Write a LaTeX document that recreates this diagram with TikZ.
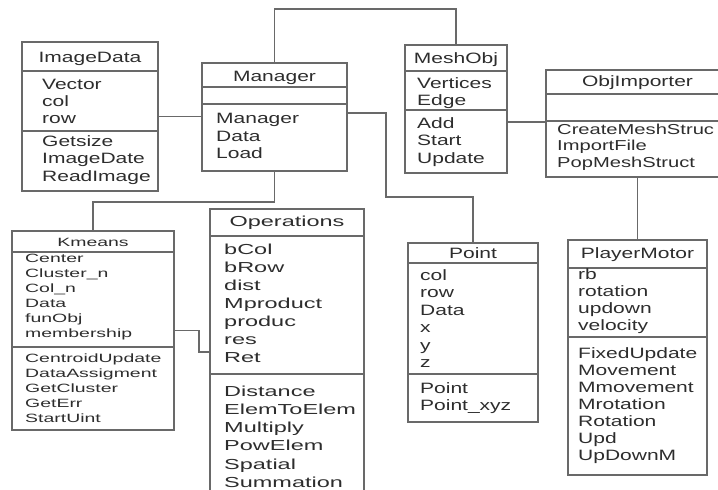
\documentclass[tikz,border=0pt]{standalone}
\usepackage{fontspec}
\setmainfont{Liberation Sans}[FakeStretch=1.4]
\newfontfamily\widefont{Liberation Sans}[FakeStretch=1.62]
\usetikzlibrary{positioning}
\definecolor{linegray}{RGB}{105,105,105}
\definecolor{textgray}{RGB}{45,45,45}
\tikzstyle{class} = [rectangle, draw=linegray, line width=1.1pt, inner sep=0pt, outer sep=0pt, anchor=north west]
\tikzstyle{ctitle} = [anchor=base, inner sep=0pt, text=textgray, font=\fontsize{15}{17.5}\selectfont]
\tikzstyle{members} = [anchor=north west, inner sep=0pt, align=left, text=textgray, font=\fontsize{15}{17.5}\selectfont]
\tikzstyle{link} = [draw=linegray, line width=1.1pt]

\begin{document}
\begin{tikzpicture}[x=1pt, y=-1pt]
\useasboundingbox (0,0) rectangle (718,490);
\clip (0,0) rectangle (718,490);

\node (imgdata) [class, minimum width=136pt, minimum height=149pt] at (22,42) {};
\draw[link] (imgdata.west |- 0,71) -- (imgdata.east |- 0,71);
\draw[link] (imgdata.west |- 0,131) -- (imgdata.east |- 0,131);
\node (imgdata-t) [ctitle] at (imgdata.north |- 0,62) {ImageData};
\node (imgdata-a) [members, font=\fontsize{15}{17}\selectfont] at (42,79.2) {Vector\\col\\row};
\node (imgdata-m) [members] at (42,135.2) {Getsize\\ImageDate\\ReadImage};

\node (mgr) [class, minimum width=145pt, minimum height=108pt] at (202,63) {};
\draw[link] (mgr.west |- 0,87) -- (mgr.east |- 0,87);
\draw[link] (mgr.west |- 0,104) -- (mgr.east |- 0,104);
\node (mgr-t) [ctitle] at (mgr.north |- 0,81) {Manager};
\node (mgr-m) [members] at (216,113.2) {Manager\\Data\\Load};

\node (mesh) [class, minimum width=102pt, minimum height=128pt] at (405,45) {};
\draw[link] (mesh.west |- 0,71) -- (mesh.east |- 0,71);
\draw[link] (mesh.west |- 0,110) -- (mesh.east |- 0,110);
\node (mesh-t) [ctitle] at (mesh.north |- 0,63) {MeshObj};
\node (mesh-a) [members, font=\fontsize{15}{17}\selectfont] at (417,77.2) {Vertices\\Edge};
\node (mesh-m) [members] at (417,117.2) {Add\\Start\\Update};

\node (objimp) [class, minimum width=183pt, minimum height=107pt] at (546,70) {};
\draw[link] (objimp.west |- 0,94) -- (objimp.east |- 0,94);
\draw[link] (objimp.west |- 0,121) -- (objimp.east |- 0,121);
\node (objimp-t) [ctitle] at (objimp.north |- 0,86) {ObjImporter};
\node (objimp-m) [members, font=\fontsize{14.4}{16.5}\selectfont] at (557,123.6) {CreateMeshStruc\\ImportFile\\PopMeshStruct};

\node (kmeans) [class, minimum width=162pt, minimum height=199pt] at (12,231) {};
\draw[link, line width=2.2pt] (kmeans.west |- 0,252) -- (kmeans.east |- 0,252);
\draw[link] (kmeans.west |- 0,347) -- (kmeans.east |- 0,347);
\node (kmeans-t) [ctitle, font=\widefont\fontsize{12}{15}\selectfont] at (kmeans.north |- 0,246) {Kmeans};
\node (kmeans-a) [members, font=\widefont\fontsize{12}{15}\selectfont] at (25,254.4) {Center\\Cluster\_n\\Col\_n\\Data\\funObj\\membership};
\node (kmeans-m) [members, font=\widefont\fontsize{12}{15}\selectfont] at (25,353.4) {CentroidUpdate\\DataAssigment\\GetCluster\\GetErr\\StartUint};

\node (ops) [class, minimum width=154pt, minimum height=291pt] at (210,209) {};
\draw[link] (ops.west |- 0,236) -- (ops.east |- 0,236);
\draw[link] (ops.west |- 0,374) -- (ops.east |- 0,374);
\node (ops-t) [ctitle, font=\widefont\fontsize{14.5}{18}\selectfont] at (ops.north |- 0,226) {Operations};
\node (ops-a) [members, font=\widefont\fontsize{14.5}{18}\selectfont] at (224,243.6) {bCol\\bRow\\dist\\Mproduct\\produc\\res\\Ret};
\node (ops-m) [members, font=\widefont\fontsize{14.5}{18.2}\selectfont] at (224,385.6) {Distance\\ElemToElem\\Multiply\\PowElem\\Spatial\\Summation};

\node (point) [class, minimum width=130pt, minimum height=179pt] at (408,243) {};
\draw[link] (point.west |- 0,263) -- (point.east |- 0,263);
\draw[link] (point.west |- 0,374) -- (point.east |- 0,374);
\node (point-t) [ctitle] at (point.north |- 0,258) {Point};
\node (point-a) [members] at (420,269.2) {col\\row\\Data\\x\\y\\z};
\node (point-m) [members, font=\fontsize{15}{17}\selectfont] at (420,382.2) {Point\\Point\_xyz};

\node (player) [class, minimum width=139pt, minimum height=235pt] at (568,240) {};
\draw[link] (player.west |- 0,268) -- (player.east |- 0,268);
\draw[link] (player.west |- 0,337) -- (player.east |- 0,337);
\node (player-t) [ctitle] at (player.north |- 0,258) {PlayerMotor};
\node (player-a) [members, font=\fontsize{15}{17}\selectfont] at (578,268.2) {rb\\rotation\\updown\\velocity};
\node (player-m) [members, font=\fontsize{15}{17}\selectfont] at (578,347.2) {FixedUpdate\\Movement\\Mmovement\\Mrotation\\Rotation\\Upd\\UpDownM};

\coordinate (mgr-bend) at (386,197);
\coordinate (km-bend) at (199,352);
\draw[link] (imgdata.east) -- (imgdata.east -| mgr.west);
\draw[link] (mgr.north) -- (mgr.north |- 0,9) -| (mesh.north);
\draw[link] ([yshift=4pt]mgr.east) -| (mgr-bend) -| (point.north);
\draw[link] (mgr.south) |- (kmeans.north |- 0,202) -- (kmeans.north);
\draw[link] (kmeans.east) -| (km-bend) -- (ops.west |- km-bend);
\draw[link] (mesh.east |- 0,122) -- (objimp.west |- 0,122);
\draw[link] (objimp.south) -- (player.north);
\end{tikzpicture}
\end{document}
